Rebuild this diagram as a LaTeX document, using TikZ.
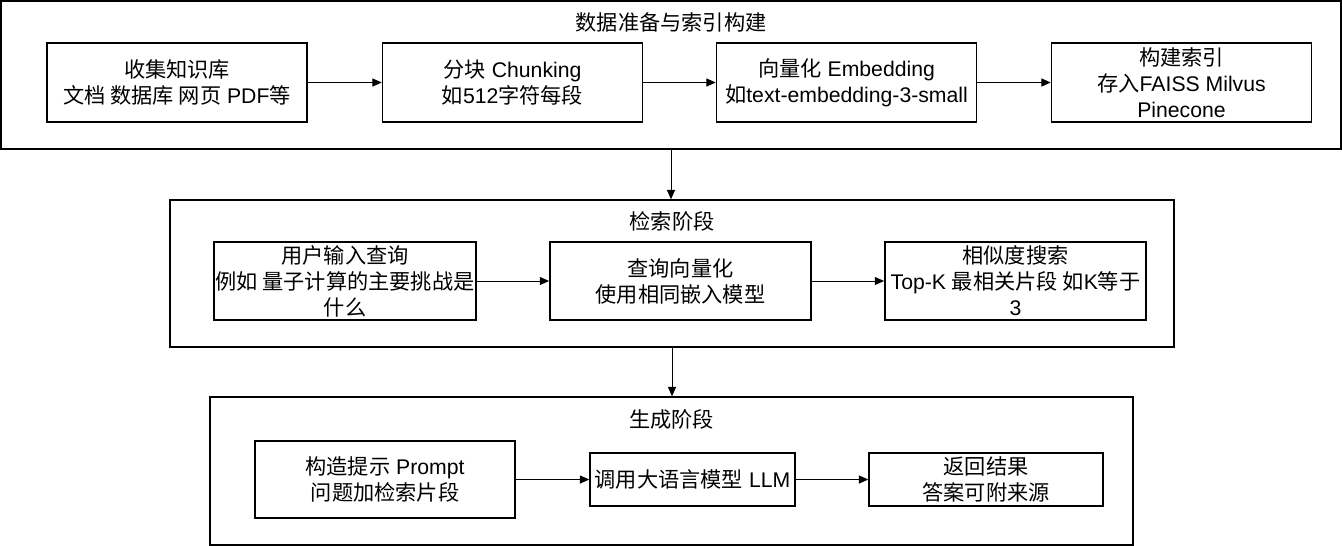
\documentclass[tikz,border=0pt]{standalone}
\usepackage{fontspec}
\setmainfont{Liberation Sans}
\newfontfamily\cjk{Noto Sans CJK SC}
\usetikzlibrary{arrows.meta}

\begin{document}
\begin{tikzpicture}[x=0.75pt,y=-0.75pt,
    box/.style={draw, line width=1.1pt, align=center, inner sep=0pt,
        font=\fontsize{15.9}{19.5}\selectfont},
    stage/.style={draw, line width=1.1pt, inner sep=0pt},
    title/.style={font=\fontsize{15.9}{19.5}\selectfont\cjk},
    flow/.style={-{Triangle[length=7pt,width=6pt]}, line width=0.75pt}]
    \useasboundingbox (0,0) rectangle (1342,546);

    \node[stage, minimum width=1005pt, minimum height=111pt] (S1) at (671,75) {};
    \node[stage, minimum width=753pt, minimum height=110.25pt] (S2) at (672,273.5) {};
    \node[stage, minimum width=692.25pt, minimum height=111pt] (S3) at (671.5,471) {};
    \node[title] (T1) at (671,22) {数据准备与索引构建};
    \node[title] (T2) at (672,221) {检索阶段};
    \node[title] (T3) at (671.5,419) {生成阶段};

    \node[box, minimum width=195pt, minimum height=59.25pt] (A) at (177,82.5)
        {{\cjk 收集知识库}\\{\cjk 文档 数据库 网页} PDF{\cjk 等}};
    \node[box, minimum width=195pt, minimum height=59.25pt] (B) at (512.5,82.5)
        {{\cjk 分块} Chunking\\{\cjk 如}512{\cjk 字符每段}};
    \node[box, minimum width=195pt, minimum height=59.25pt] (C) at (846.5,82.5)
        {{\cjk 向量化} Embedding\\{\cjk 如}text-embedding-3-small};
    \node[box, minimum width=195pt, minimum height=59.25pt] (D) at (1181.5,82.5)
        {{\cjk 构建索引}\\{\cjk 存入}FAISS Milvus\\Pinecone};

    \node[box, minimum width=196.5pt, minimum height=58.5pt] (E) at (345,281)
        {{\cjk 用户输入查询}\\{\cjk 例如 量子计算的主要挑战是}\\{\cjk 什么}};
    \node[box, minimum width=196pt, minimum height=58.5pt] (F) at (680.5,281)
        {{\cjk 查询向量化}\\{\cjk 使用相同嵌入模型}};
    \node[box, minimum width=196pt, minimum height=58.5pt] (G) at (1015.5,281)
        {{\cjk 相似度搜索}\\Top-K {\cjk 最相关片段 如}K{\cjk 等于}\\3};

    \node[box, minimum width=195pt, minimum height=57.75pt] (H) at (385,479.5)
        {{\cjk 构造提示} Prompt\\{\cjk 问题加检索片段}};
    \node[box, minimum width=153.75pt, minimum height=39.75pt] (I) at (692.5,479.5)
        {{\cjk 调用大语言模型} LLM};
    \node[box, minimum width=175.5pt, minimum height=39.75pt] (J) at (986,479.5)
        {{\cjk 返回结果}\\{\cjk 答案可附来源}};

    \draw[flow] (A) -- (B);
    \draw[flow] (B) -- (C);
    \draw[flow] (C) -- (D);
    \draw[flow] (E) -- (F);
    \draw[flow] (F) -- (G);
    \draw[flow] (H) -- (I);
    \draw[flow] (I) -- (J);
    \draw[flow] (S1.south) -- (S1.south |- S2.north);
    \draw[flow] (S2.south) -- (S2.south |- S3.north);
\end{tikzpicture}
\end{document}
